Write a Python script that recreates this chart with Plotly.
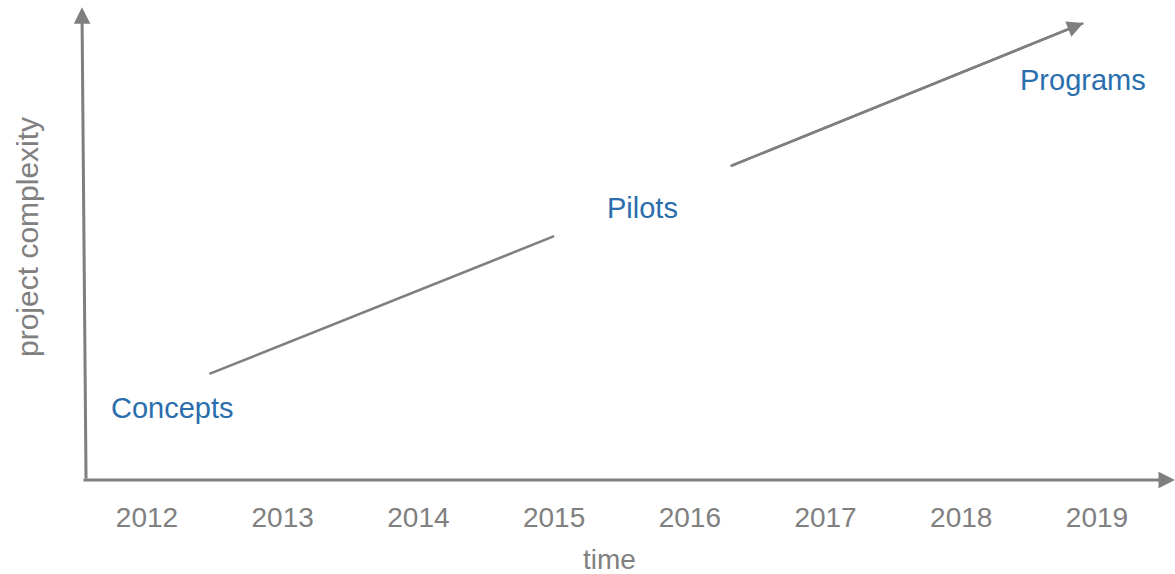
import plotly.graph_objects as go

# ---- data ----
years = [2012, 2013, 2014, 2015, 2016, 2017, 2018, 2019]
year_labels = [str(y) for y in years]

stage_names = ["Concepts", "Pilots", "Programs"]
stage_x = [2012.19, 2015.65, 2018.90]
stage_y = [1.5, 5.67, 8.33]

trend1_x = [2012.46, 2015.00]
trend1_y = [2.21, 5.08]
trend2_x = [2016.30, 2018.90]
trend2_y = [6.54, 9.52]

X_RANGE = [2010.917, 2019.575]
Y_RANGE = [0, 10]

GREY = "#7f7f7f"
TEXT_GREY = "#808080"
BLUE = "#2a6ead"
FONT = "Liberation Sans, Arial, sans-serif"

fig = go.Figure()

fig.add_trace(go.Scatter(x=trend1_x, y=trend1_y, mode="lines",
                         line=dict(color=GREY, width=2.5), hoverinfo="skip"))
fig.add_trace(go.Scatter(x=trend2_x, y=trend2_y, mode="lines",
                         line=dict(color=GREY, width=2.5), hoverinfo="skip"))

# arrowhead on trend line
fig.add_annotation(x=trend2_x[-1], y=trend2_y[-1], ax=trend2_x[0], ay=trend2_y[0],
                   xref="x", yref="y", axref="x", ayref="y", text="",
                   showarrow=True, arrowhead=2, arrowsize=1.3, arrowwidth=2.5,
                   arrowcolor=GREY, standoff=0, startstandoff=0)

# axes as arrows
fig.add_annotation(x=X_RANGE[1], y=0, ax=2011.521, ay=0,
                   xref="x", yref="y", axref="x", ayref="y", text="",
                   showarrow=True, arrowhead=2, arrowsize=1.1, arrowwidth=3,
                   arrowcolor=GREY, standoff=0)
fig.add_annotation(x=2011.521, y=9.85, ax=2011.551, ay=0,
                   xref="x", yref="y", axref="x", ayref="y", text="",
                   showarrow=True, arrowhead=2, arrowsize=1.1, arrowwidth=3,
                   arrowcolor=GREY, standoff=0)

# stage labels
for name, sx, sy in zip(stage_names, stage_x, stage_y):
    fig.add_annotation(x=sx, y=sy, xref="x", yref="y", text=name, showarrow=False,
                       font=dict(family=FONT, size=29, color=BLUE))

# axis titles
fig.add_annotation(x=609 / 1175, y=-(559 - 480) / 480, xref="paper", yref="paper",
                   text="time", showarrow=False, xanchor="center", yanchor="middle",
                   font=dict(family=FONT, size=28, color=TEXT_GREY))
fig.add_annotation(x=27 / 1175, y=(480 - 237) / 480, xref="paper", yref="paper",
                   text="project complexity", showarrow=False, textangle=-90,
                   xanchor="center", yanchor="middle",
                   font=dict(family=FONT, size=30, color=TEXT_GREY))

fig.update_layout(
    width=1175, height=574,
    margin=dict(l=0, r=0, t=0, b=94),
    paper_bgcolor="white", plot_bgcolor="white",
    showlegend=False,
    xaxis=dict(range=X_RANGE, tickvals=years, ticktext=year_labels,
               showgrid=False, zeroline=False, showline=False,
               ticks="outside", ticklen=12, tickcolor="rgba(0,0,0,0)",
               tickfont=dict(family=FONT, size=28, color=TEXT_GREY),
               fixedrange=True),
    yaxis=dict(range=Y_RANGE, visible=False, fixedrange=True),
)

fig.write_html("out.html")
